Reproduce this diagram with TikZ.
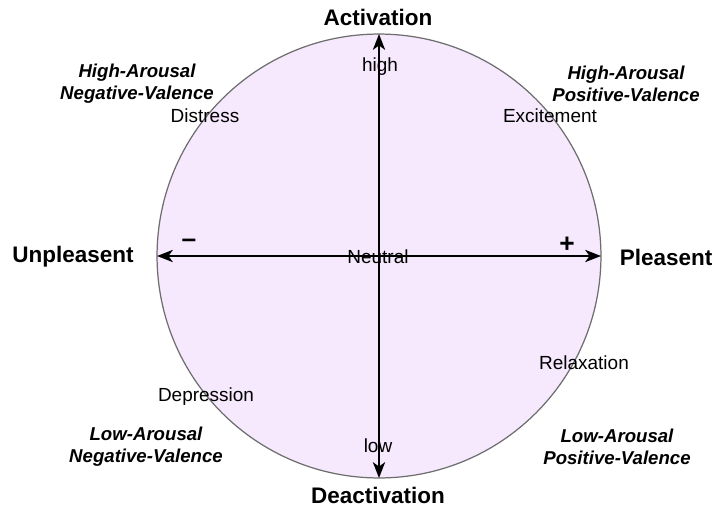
\documentclass[tikz,border=0pt]{standalone}
\usepackage{fontspec}
\setmainfont{Liberation Sans}
\usetikzlibrary{arrows.meta,positioning}
\definecolor{moodfill}{HTML}{F6E8FD}
\definecolor{moodline}{HTML}{6E6E6E}
\tikzset{
    >={Stealth[length=9pt,width=7pt,inset=2.5pt]},
    moodcircle/.style={
        draw=moodline,
        fill=moodfill,
        circle,
        line width=0.7pt,
        inner sep=0pt,
        outer sep=0pt,
        minimum size=8.88cm,
    },
    axis/.style={
        <->,
        line width=0.9pt,
        black,
    },
    axislabel/.style={
        font=\fontsize{12.8}{15}\selectfont\bfseries,
        inner sep=0pt,
    },
    quadrant/.style={
        font=\fontsize{10.6}{12.6}\selectfont\bfseries\itshape,
        align=center,
        inner sep=0pt,
    },
    emotion/.style={
        font=\fontsize{10.8}{13}\selectfont,
        inner sep=0pt,
    },
    sign/.style={
        font=\fontsize{15}{17}\selectfont\bfseries,
        inner sep=0pt,
    },
}

\begin{document}
\begin{tikzpicture}[x=0.02cm, y=-0.02cm]
            \useasboundingbox (0,0) rectangle (714,511);

            \node[moodcircle] (mood) at (379,256) {};

            \draw[axis] (mood.north) -- (mood.south);
            \draw[axis] (mood.west) -- (mood.east);

            \node[axislabel] (activation) at (378,17) {Activation};
            \node[axislabel] (deactivation) at (378,495) {Deactivation};
            \node[axislabel] (unpleasent) at (73,257) {Unpleasent};
            \node[axislabel] (pleasent) at (666,257) {Pleasent};

            \node[quadrant] (hanv) at (137,84) {High-Arousal\\Negative-Valence};
            \node[quadrant] (hapv) at (626,84) {High-Arousal\\Positive-Valence};
            \node[quadrant] (lanv) at (146,447) {Low-Arousal\\Negative-Valence};
            \node[quadrant] (lapv) at (617,447) {Low-Arousal\\Positive-Valence};

            \node[emotion] (distress) at (205,116) {Distress};
            \node[emotion] (excitement) at (550,116) {Excitement};
            \node[emotion] (relaxation) at (584,363) {Relaxation};
            \node[emotion] (depression) at (206,397) {Depression};
            \node[emotion] (high) at (380,67) {high};
            \node[emotion] (low) at (378,446) {low};
            \node[emotion] (neutral) at (378,257) {Neutral};

            \node[sign] (minus) at (189,243) {--};
            \node[sign] (plus) at (567,245) {+};
        \end{tikzpicture}
\end{document}
